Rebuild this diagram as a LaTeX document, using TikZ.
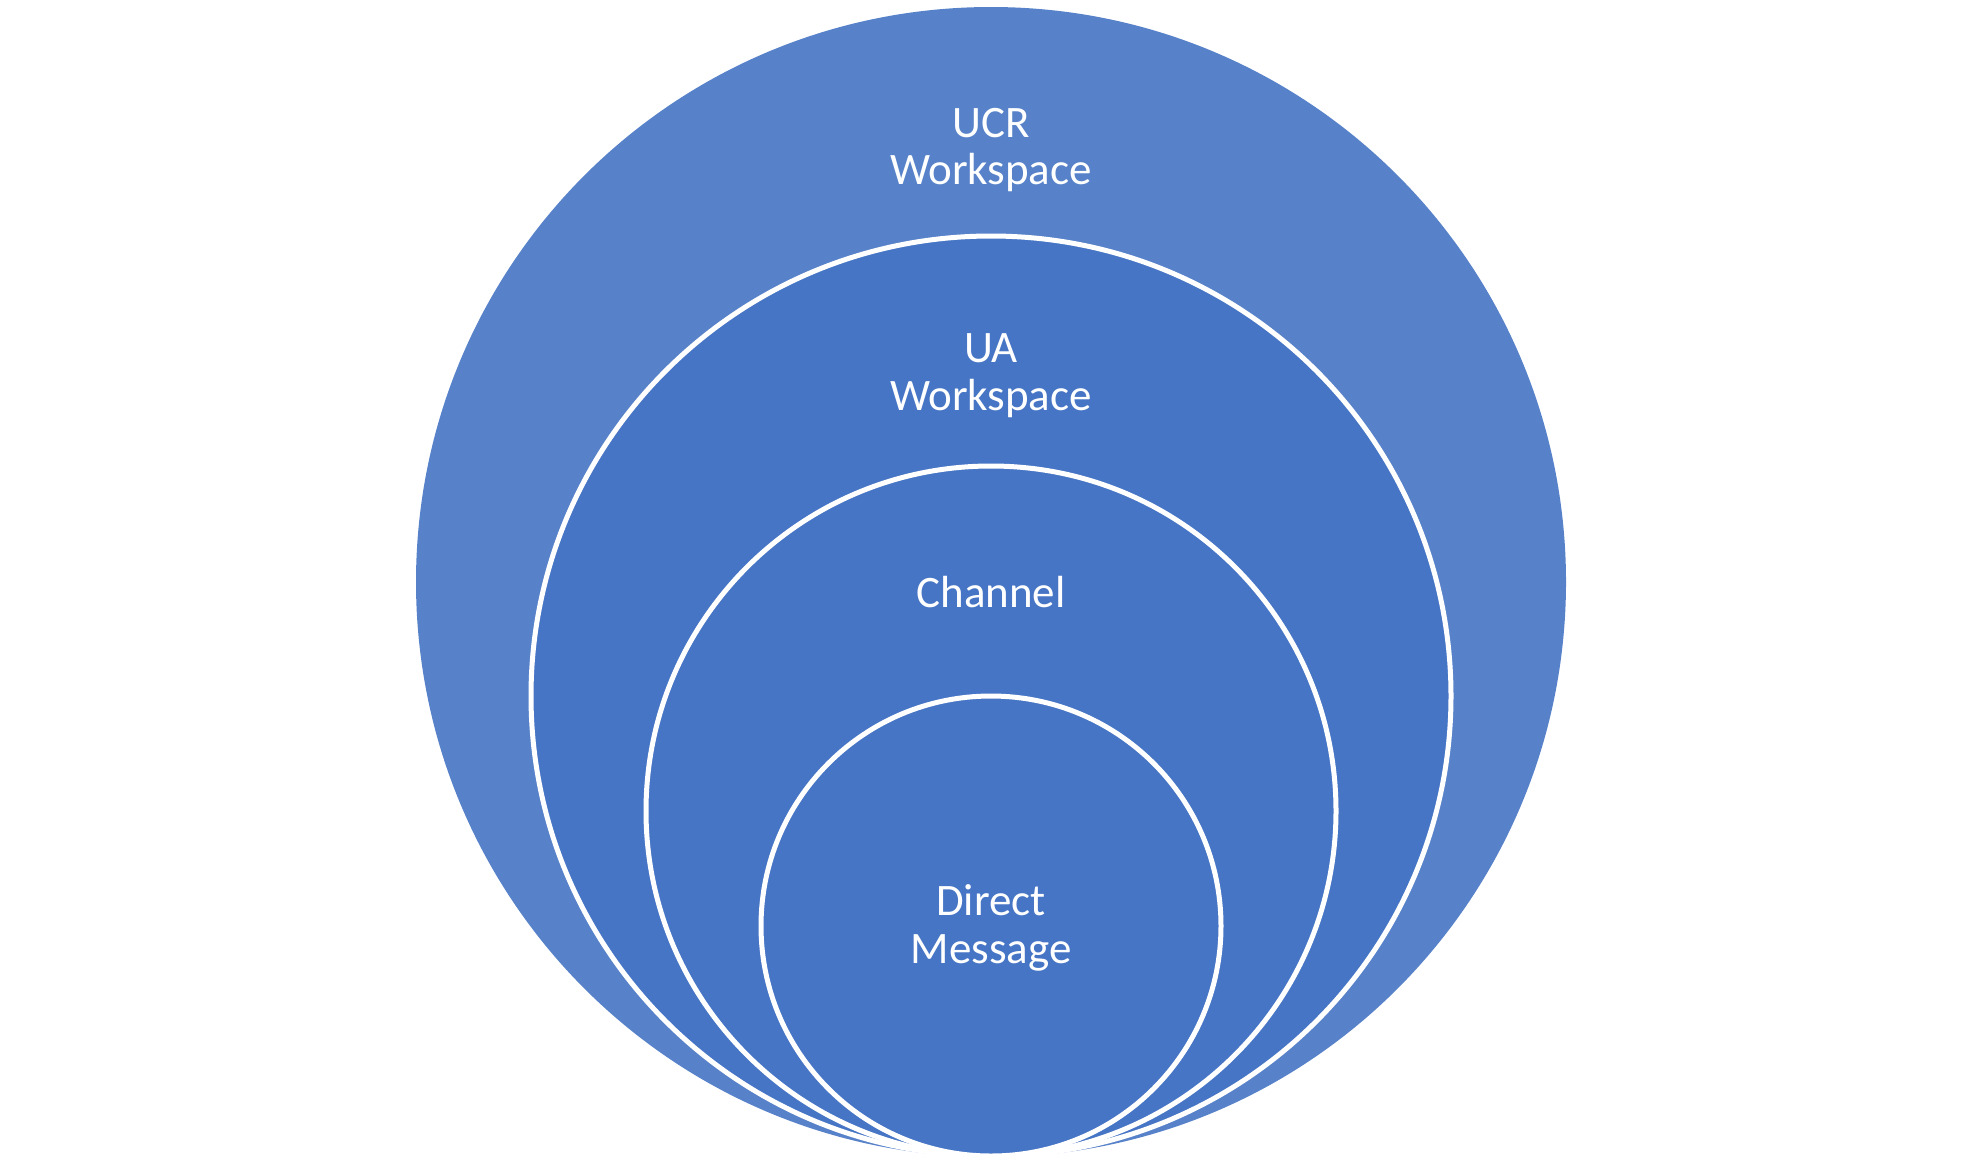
\documentclass[tikz,border=0pt]{standalone}
\usepackage{fontspec}
\setmainfont{Carlito}
\definecolor{outerblue}{RGB}{87,130,201}
\definecolor{innerblue}{RGB}{70,117,197}
\begin{document}
\begin{tikzpicture}[x=1pt,y=-1pt,
  ring/.style={fill=innerblue,draw=white,line width=5pt},
  lbl/.style={text=white,font=\fontsize{45}{47.5}\selectfont,anchor=base,inner sep=0pt}]
\useasboundingbox (0,0) rectangle (1980,1168);
\fill[outerblue] (991,582) circle[radius=575];
\draw[ring] (991,696) circle[radius=460];
\draw[ring] (991,811) circle[radius=345];
\draw[ring] (991,926) circle[radius=230];
\node[lbl] (ucr1) at (991,137) {UCR};
\node[lbl] (ucr2) at (991,184.5) {Workspace};
\node[lbl] (ua1) at (991,362) {UA};
\node[lbl] (ua2) at (991,410) {Workspace};
\node[lbl] (ch) at (991,607) {Channel};
\node[lbl] (dm1) at (991,915) {Direct};
\node[lbl] (dm2) at (991,963) {Message};
\end{tikzpicture}
\end{document}
